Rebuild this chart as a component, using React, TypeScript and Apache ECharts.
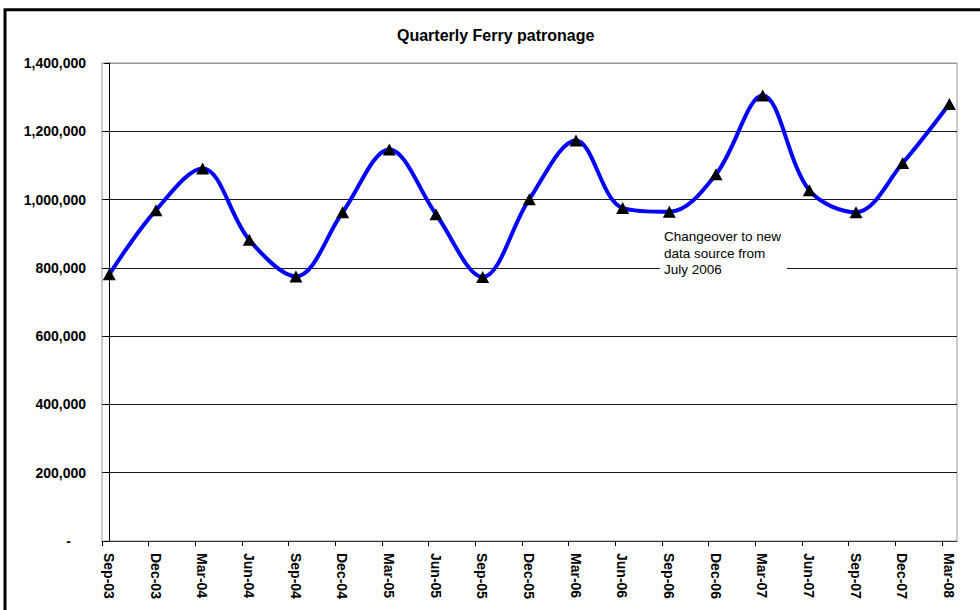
import React, { useEffect, useRef } from "react";
import * as echarts from "echarts";

const quarters: string[] = [
  "Sep-03", "Dec-03", "Mar-04", "Jun-04", "Sep-04", "Dec-04", "Mar-05", "Jun-05",
  "Sep-05", "Dec-05", "Mar-06", "Jun-06", "Sep-06", "Dec-06", "Mar-07", "Jun-07",
  "Sep-07", "Dec-07", "Mar-08",
];

const patronage: number[] = [
  781000, 969000, 1091000, 882000, 775000, 963000, 1147000, 957000,
  773000, 1001000, 1173000, 975000, 964000, 1074000, 1305000, 1027000,
  963000, 1107000, 1280000,
];

const yTicks: number[] = [0, 200000, 400000, 600000, 800000, 1000000, 1200000, 1400000];

const titleText = "Quarterly Ferry patronage";
const noteText = "Changeover to new\ndata source from\nJuly 2006";

const FONT = "'Liberation Sans', Arial, sans-serif";

export default function App() {
  const ref = useRef<HTMLDivElement>(null);

  useEffect(() => {
    if (!ref.current) return;
    const chart = echarts.init(ref.current, null, { renderer: "svg" });
    const idx = quarters.map((_, i) => i);
    const gridLineColors = yTicks.map((v, i) => (i === yTicks.length - 1 ? "#999999" : "#1a1a1a"));

    chart.setOption({
      animation: false,
      backgroundColor: "#ffffff",
      textStyle: { fontFamily: FONT },
      title: {
        text: titleText,
        left: 397,
        top: 27,
        padding: 0,
        textStyle: { fontFamily: FONT, fontSize: 16, fontWeight: "bold", color: "#000" },
      },
      grid: {
        left: 102,
        top: 63,
        width: 855,
        height: 478,
        show: true,
        borderColor: "#999999",
        borderWidth: 1,
        backgroundColor: "transparent",
      },
      xAxis: [
        {
          type: "value",
          min: -0.156,
          max: 18.164,
          show: false,
        },
        {
          type: "value",
          min: 0,
          max: 18.32,
          interval: 1,
          position: "bottom",
          axisLine: { show: true, onZero: false, lineStyle: { color: "#333", width: 1 } },
          axisTick: {
            show: true,
            length: 5,
            inside: false,
            customValues: idx,
            lineStyle: { color: "#000", width: 1 },
          },
          axisLabel: {
            customValues: idx,
            rotate: -90,
            margin: 12,
            verticalAlign: "bottom",
            formatter: (v: number) => quarters[Math.round(v)] ?? "",
            fontFamily: FONT,
            fontSize: 14,
            fontWeight: "bold",
            color: "#000",
          },
          splitLine: { show: false },
        },
      ],
      yAxis: {
        type: "value",
        min: 0,
        max: 1400000,
        interval: 200000,
        axisLine: { show: true, lineStyle: { color: "#000", width: 1 } },
        axisTick: { show: true, length: 5, lineStyle: { color: "#000", width: 1 } },
        axisLabel: {
          margin: 16,
          fontFamily: FONT,
          fontSize: 14,
          fontWeight: "bold",
          color: "#000",
          formatter: (v: number) => (v === 0 ? "{z|-}" : v.toLocaleString("en-US")),
          rich: {
            z: { padding: [0, 15, 0, 0], fontFamily: FONT, fontSize: 14, fontWeight: "bold", color: "#000" },
          },
        },
        splitLine: { show: true, lineStyle: { color: gridLineColors, width: 1 } },
      },
      series: [
        {
          type: "line",
          xAxisIndex: 0,
          yAxisIndex: 0,
          data: patronage.map((v, i) => [i, v]),
          smooth: 0.35,
          showAllSymbol: true,
          symbol: "triangle",
          symbolSize: [13, 12],
          lineStyle: { color: "#0000FF", width: 4 },
          itemStyle: { color: "#000000" },
          z: 3,
        },
      ],
      graphic: [
        {
          type: "rect",
          z: 100,
          silent: true,
          shape: { x: 5, y: 9.7, width: 1000, height: 700 },
          style: { fill: "none", stroke: "#000", lineWidth: 3 },
        },
        {
          type: "text",
          z: 100,
          left: 660,
          top: 227,
          silent: true,
          style: {
            text: noteText,
            font: `13.5px ${FONT}`,
            fill: "#000",
            lineHeight: 16.7,
            backgroundColor: "#ffffff",
            padding: [1, 6, 1, 4],
          },
        },
      ],
    });

    return () => chart.dispose();
  }, []);

  return (
    <div
      ref={ref}
      style={{ position: "fixed", left: 0, top: 0, width: 980, height: 610, background: "#fff" }}
    />
  );
}
